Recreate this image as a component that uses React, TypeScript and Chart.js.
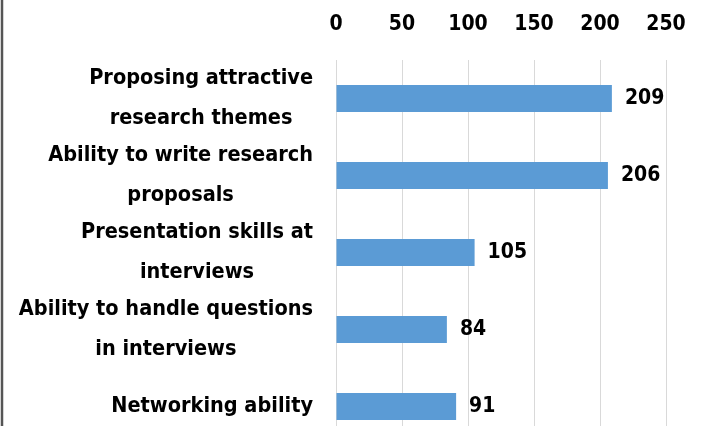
import React, { useEffect, useRef } from "react";
import { Chart, registerables } from "chart.js";

Chart.register(...registerables);

const categories: string[][] = [
  ["Proposing attractive", "research themes"],
  ["Ability to write research", "proposals"],
  ["Presentation skills at", "interviews"],
  ["Ability to handle questions", "in interviews"],
  ["Networking ability"],
];
const values: number[] = [209, 206, 105, 84, 91];
const xTicks: number[] = [0, 50, 100, 150, 200, 250];

const FONT = "'DejaVu Sans Condensed', 'DejaVu Sans', Verdana, sans-serif";
const FONT_SIZE = 21;
const LABEL_SIZE = 21.5;
const LINE_H = 40;

export default function App() {
  const ref = useRef<HTMLCanvasElement | null>(null);

  useEffect(() => {
    document.body.style.margin = "0";
    const canvas = ref.current;
    if (!canvas) return;

    const valueLabels = {
      id: "valueLabels",
      afterDatasetsDraw(chart: any) {
        const ctx = chart.ctx;
        const meta = chart.getDatasetMeta(0);
        ctx.save();
        ctx.fillStyle = "#000";
        ctx.font = `bold ${FONT_SIZE}px ${FONT}`;
        ctx.textAlign = "left";
        ctx.textBaseline = "middle";
        meta.data.forEach((el: any, i: number) => {
          ctx.fillText(String(values[i]), el.x + 13, el.y);
        });
        ctx.restore();
      },
    };

    const categoryLabels = {
      id: "categoryLabels",
      afterDraw(chart: any) {
        const ctx = chart.ctx;
        const yScale = chart.scales.y;
        const rightEdge = chart.chartArea.left - 23;
        ctx.save();
        ctx.fillStyle = "#000";
        ctx.font = `bold ${LABEL_SIZE}px ${FONT}`;
        ctx.textAlign = "center";
        ctx.textBaseline = "middle";
        categories.forEach((lines, i) => {
          const y = yScale.getPixelForValue(i);
          const widest = Math.max(...lines.map((l) => ctx.measureText(l).width));
          const cx = rightEdge - widest / 2;
          lines.forEach((line, k) => {
            ctx.fillText(line, cx, y + (k - (lines.length - 1) / 2) * LINE_H);
          });
        });
        ctx.restore();
      },
    };

    const leftBorder = {
      id: "leftBorder",
      afterDraw(chart: any) {
        const ctx = chart.ctx;
        ctx.save();
        ctx.strokeStyle = "#555";
        ctx.lineWidth = 2.5;
        ctx.beginPath();
        ctx.moveTo(2, 0);
        ctx.lineTo(2, chart.height);
        ctx.stroke();
        ctx.restore();
      },
    };

    const chart = new Chart(canvas, {
      type: "bar",
      data: {
        datasets: [
          {
            data: values.map((v, i) => ({ x: v, y: i })),
            backgroundColor: "#5B9BD5",
            borderWidth: 0,
            categoryPercentage: 0.7,
            barPercentage: 0.5,
          },
        ],
      },
      options: {
        indexAxis: "y",
        animation: false,
        responsive: false,
        maintainAspectRatio: false,
        layout: { padding: { left: 0, right: 38, top: 0, bottom: 0 } },
        plugins: {
          legend: { display: false },
          tooltip: { enabled: false },
        },
        scales: {
          x: {
            type: "linear",
            position: "top",
            min: xTicks[0],
            max: xTicks[xTicks.length - 1],
            afterBuildTicks: (axis: any) => {
              axis.ticks = xTicks.map((v) => ({ value: v }));
            },
            afterFit: (axis: any) => {
              axis.height = 60;
              axis.paddingLeft = 0;
              axis.paddingRight = 0;
            },
            grid: { color: "#d9d9d9", lineWidth: 1, drawTicks: false },
            border: { display: false },
            ticks: {
              padding: 23,
              color: "#000",
              font: { family: FONT, size: FONT_SIZE, weight: "bold" },
            },
          },
          y: {
            type: "linear",
            reverse: true,
            offset: false,
            min: -0.5,
            max: 4.253,
            afterBuildTicks: (axis: any) => {
              axis.ticks = categories.map((_, i) => ({ value: i }));
            },
            afterFit: (axis: any) => {
              axis.width = 336;
              axis.paddingTop = 0;
              axis.paddingBottom = 0;
            },
            grid: { display: false, drawTicks: false, offset: false },
            border: { display: false },
            ticks: { display: false },
          },
        },
      },
      plugins: [valueLabels, categoryLabels, leftBorder],
    } as any);

    return () => chart.destroy();
  }, []);

  return (
    <div style={{ width: 704, height: 426, background: "#fff" }}>
      <canvas ref={ref} width={704} height={426} style={{ display: "block" }} />
    </div>
  );
}
